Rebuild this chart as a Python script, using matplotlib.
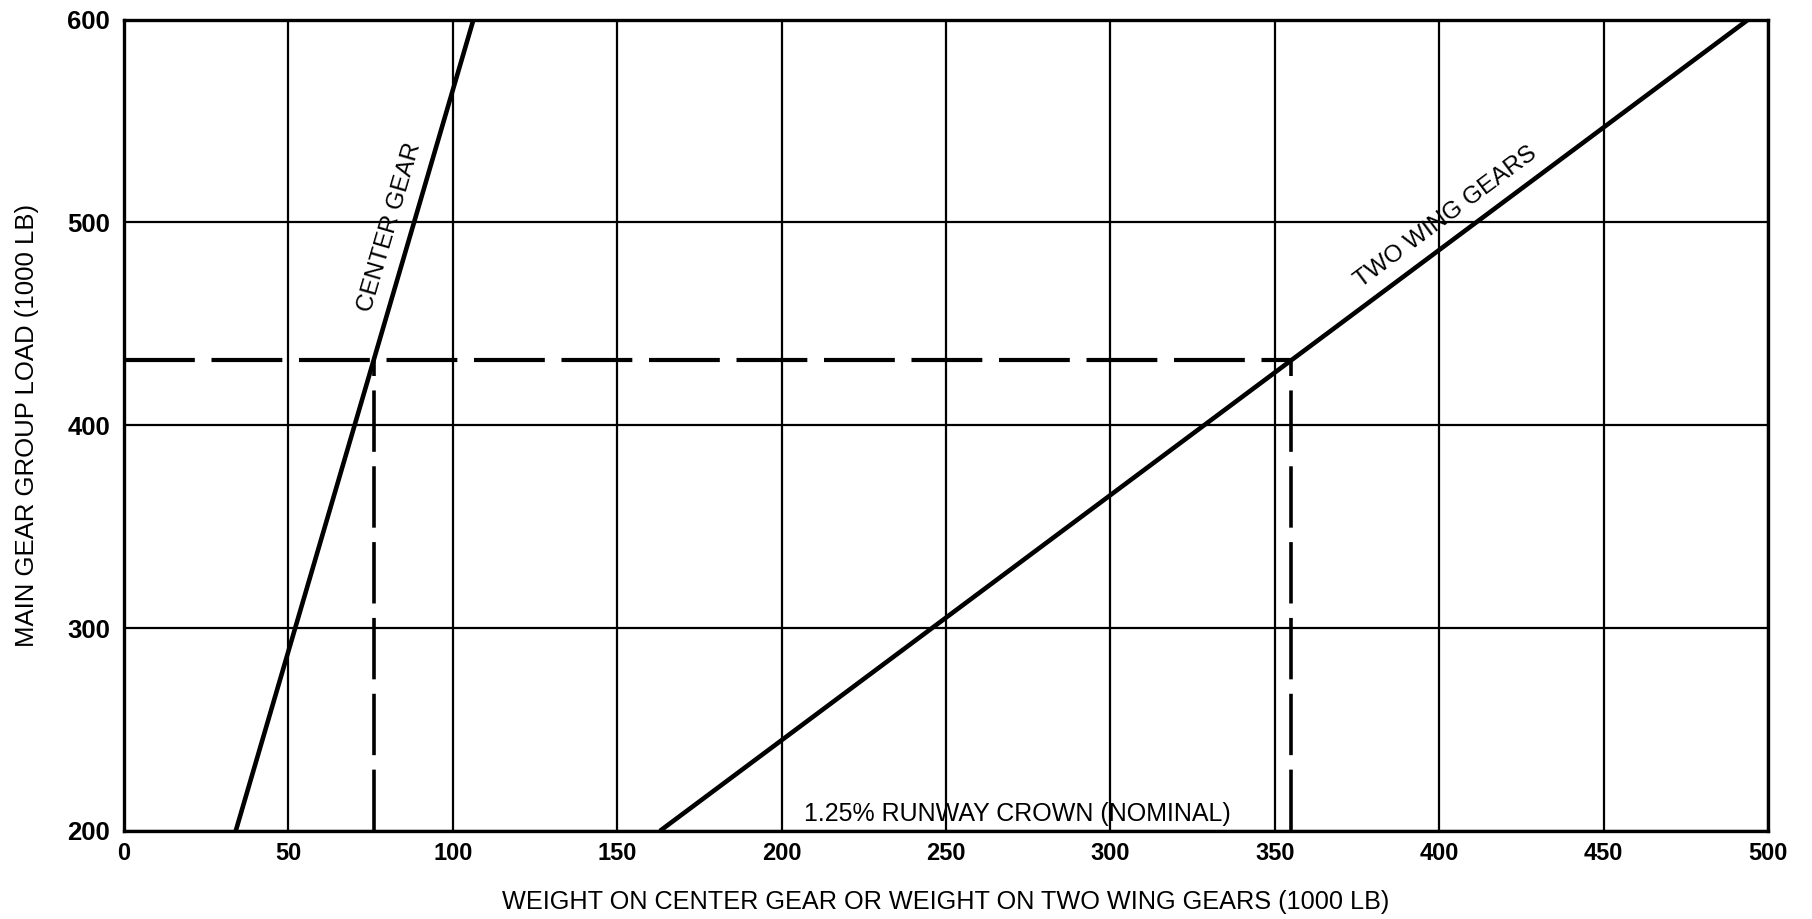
import numpy as np
import matplotlib.pyplot as plt

# gear load lines (weight in 1000 lb vs main gear group load in 1000 lb)
center_gear_w = [34, 106.3]
center_gear_load = [200, 600]
wing_gear_w = [163, 494]
wing_gear_load = [200, 600]

# read-off example
example_load = 432
example_center_w = 76
example_wing_w = 355

xticks = [0, 50, 100, 150, 200, 250, 300, 350, 400, 450, 500]
yticks = [200, 300, 400, 500, 600]

plain = ['Liberation Sans', 'DejaVu Sans']

fig = plt.figure(figsize=(18.12, 9.19), dpi=100)
ax = fig.add_axes([0.0684, 0.0958, 0.9073, 0.8829])

ax.set_xlim(0, 500)
ax.set_ylim(200, 600)
ax.set_xticks(xticks)
ax.set_yticks(yticks)
ax.grid(True, color='black', linewidth=1.6, zorder=1)
ax.set_axisbelow(True)
ax.tick_params(length=0)
ax.tick_params(axis='x', pad=8)
ax.tick_params(axis='y', pad=10)
for lab in ax.get_xticklabels():
    lab.set_family(plain)
    lab.set_fontsize(17)
    lab.set_fontweight('bold')
for lab in ax.get_yticklabels():
    lab.set_family(plain)
    lab.set_fontsize(18.5)
    lab.set_fontweight('bold')
for sp in ax.spines.values():
    sp.set_linewidth(2.4)

ax.plot(center_gear_w, center_gear_load, color='black', lw=3.3, solid_capstyle='butt', zorder=3)
ax.plot(wing_gear_w, wing_gear_load, color='black', lw=3.3, solid_capstyle='butt', zorder=3)

dash = (0, (17, 4))
ax.plot([0, example_wing_w], [example_load, example_load], color='black', lw=3, linestyle=dash, zorder=2)
ax.plot([example_center_w, example_center_w], [200, example_load], color='black', lw=2.6, linestyle=dash, zorder=2)
ax.plot([example_wing_w, example_wing_w], [200, example_load], color='black', lw=2.6, linestyle=dash, zorder=2)


def screen_angle(xs, ys):
    p = ax.transData.transform(np.column_stack([xs, ys]))
    return np.degrees(np.arctan2(p[1, 1] - p[0, 1], p[1, 0] - p[0, 0]))


ax.text(80.8, 497.5, 'CENTER GEAR', rotation=screen_angle(center_gear_w, center_gear_load),
        rotation_mode='anchor', ha='center', va='center', fontsize=17.5, family=plain, zorder=4)
ax.text(402.0, 502.5, 'TWO WING GEARS', rotation=screen_angle(wing_gear_w, wing_gear_load),
        rotation_mode='anchor', ha='center', va='center', fontsize=17.5, family=plain, zorder=4)
ax.text(271.7, 208.5, '1.25% RUNWAY CROWN (NOMINAL)', ha='center', va='center',
        fontsize=18, family=plain, zorder=4)

ax.set_xlabel('WEIGHT ON CENTER GEAR OR WEIGHT ON TWO WING GEARS (1000 LB)',
              fontsize=18.2, family=plain, labelpad=18)
ax.set_ylabel('MAIN GEAR GROUP LOAD (1000 LB)', fontsize=18.5, family=plain, labelpad=20)

plt.savefig('out.png', dpi=100)
